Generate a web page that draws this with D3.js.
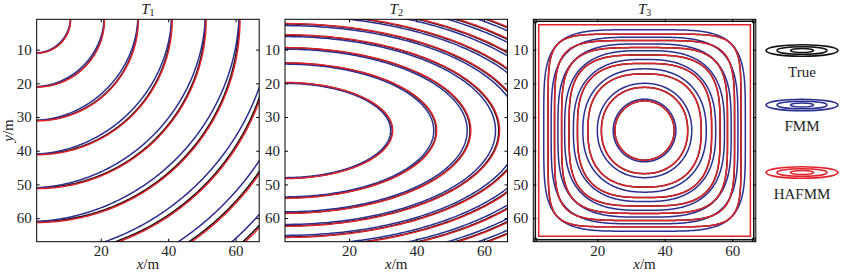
<!DOCTYPE html>
<html>
  <head>
    <meta charset="utf-8">
    <title>Traveltime contours</title>
    <script src="https://d3js.org/d3.v7.min.js"></script>
    <style>
      body { margin: 0; background: #fff; }
      svg text { font-family: "Liberation Serif", "Times New Roman", serif; font-size: 15px; fill: #222; }
      .tick line { stroke: #000; }
      .contour { fill: none; stroke-width: 1.5; }
    </style>
  </head>
  <body>
    <svg id="chart" width="842" height="275" font-family="Liberation Serif, serif"></svg>
    <script>
      // grid extent (m) and ticks
      const gridExtent = [1, 67];
      const xTicks = [20, 40, 60];
      const yTicks = [10, 20, 30, 40, 50, 60];
      const panelTitles = ["1", "2", "3"];
      const legendNames = ["True", "FMM", "HAFMM"];
      // T1: point source in the corner, contour radii (m)
      const t1Source = [1, 1];
      const t1Radii = [10, 20, 30, 40, 50, 60, 70, 80, 90];
      const t1FmmError = 0.025;
      // T2: elliptic fronts, half-height at the left edge (m), width/height ratio
      const t2Centre = [1, 34];
      const t2HalfHeights = [14.2, 20.0, 24.5, 28.3, 31.6, 34.6, 37.4, 40.0, 42.4];
      const t2Aspect = 2.24;
      const t2FmmShift = 0.985;
      // T3: rounded squares round the centre, half-size (m) and squareness
      const t3Centre = [34, 34];
      const t3HafmmSize = [8.8, 12.8, 16.8, 19.9, 22.4, 24.6, 26.7, 28.6];
      const t3HafmmPower = [2, 2.15, 2.5, 2.9, 3.4, 4.1, 5, 6.5];
      const t3FmmSize = [9.3, 14.0, 18.3, 21.1, 23.7, 25.7, 27.7, 29.9];
      const t3FmmPower = [2, 2.1, 2.3, 2.6, 2.9, 3.3, 3.8, 4.6];
      const t3BorderInset = [0.6, 1.6]; // true, HAFMM

      const colours = { True: "#111", FMM: "#2b2f8f", HAFMM: "#e2222a" };
      const panelLeft = [36.7, 285, 533.3];
      const plotTop = 19.3, w = 222.5, h = 222.4;

      const svg = d3.select("#chart");
      const x = d3.scaleLinear().domain(gridExtent).range([0, w]);
      const y = d3.scaleLinear().domain(gridExtent).range([0, h]);
      const line = d3.line().x(d => x(d[0])).y(d => y(d[1]));
      const closedLine = d3.line().x(d => x(d[0])).y(d => y(d[1])).curve(d3.curveLinearClosed);

      // shapes
      function arc(c, r, err) {
        return d3.range(0, 241).map(i => {
          const a = i / 240 * Math.PI / 2;
          const rr = r / (1 + err * Math.sin(2 * a));
          return [c[0] + rr * Math.cos(a), c[1] + rr * Math.sin(a)];
        });
      }
      function ellipse(c, hh, k) {
        return d3.range(0, 241).map(i => {
          const a = -Math.PI / 2 + i / 240 * Math.PI;
          return [c[0] + t2Aspect * hh * k * Math.cos(a), c[1] + hh * k * Math.sin(a)];
        });
      }
      function superellipse(c, s, n) {
        return d3.range(0, 480).map(i => {
          const a = i / 480 * 2 * Math.PI;
          const ca = Math.cos(a), sa = Math.sin(a);
          return [c[0] + s * Math.sign(ca) * Math.pow(Math.abs(ca), 2 / n),
                  c[1] + s * Math.sign(sa) * Math.pow(Math.abs(sa), 2 / n)];
        });
      }
      function square(inset) {
        const a = gridExtent[0] + inset, b = gridExtent[1] - inset;
        return [[a, a], [b, a], [b, b], [a, b]];
      }

      panelLeft.forEach(function(left, p) {
        const g = svg.append("g").attr("transform", "translate(" + left + "," + plotTop + ")");
        g.append("clipPath").attr("id", "clip" + p)
          .append("rect").attr("width", w).attr("height", h);
        const plot = g.append("g").attr("clip-path", "url(#clip" + p + ")");

        function draw(pts, name, closed) {
          plot.append("path").classed("contour", true)
            .attr("stroke", colours[name])
            .attr("d", closed ? closedLine(pts) : line(pts));
        }

        if (p === 0) {
          t1Radii.forEach(r => draw(arc(t1Source, r, 0), "True"));
          t1Radii.forEach(r => draw(arc(t1Source, r, t1FmmError), "FMM"));
          t1Radii.forEach(r => draw(arc(t1Source, r * 1.005, 0), "HAFMM"));
        } else if (p === 1) {
          t2HalfHeights.forEach(hh => draw(ellipse(t2Centre, hh, 1), "True"));
          t2HalfHeights.forEach(hh => draw(ellipse(t2Centre, hh, t2FmmShift), "FMM"));
          t2HalfHeights.forEach(hh => draw(ellipse(t2Centre, hh, 1.004), "HAFMM"));
        } else {
          draw(square(t3BorderInset[0]), "True", true);
          square(t3BorderInset[0]).forEach(d => {
            plot.append("circle").attr("cx", x(d[0])).attr("cy", y(d[1])).attr("r", 1.6)
              .attr("fill", "none").attr("stroke", colours.True).attr("stroke-width", 1.2);
          });
          t3HafmmSize.forEach((s, i) => draw(superellipse(t3Centre, s, t3HafmmPower[i]), "True", true));
          t3FmmSize.forEach((s, i) => draw(superellipse(t3Centre, s, t3FmmPower[i]), "FMM", true));
          draw(square(t3BorderInset[1]), "HAFMM", true);
          t3HafmmSize.forEach((s, i) => draw(superellipse(t3Centre, s, t3HafmmPower[i]), "HAFMM", true));
        }

        // axes, ticks inward on all four sides
        g.append("g").attr("transform", "translate(0," + h + ")")
          .call(d3.axisBottom(x).tickValues(xTicks).tickSize(-3).tickPadding(4));
        g.append("g")
          .call(d3.axisTop(x).tickValues(xTicks).tickSize(-3).tickFormat(""));
        g.append("g")
          .call(d3.axisLeft(y).tickValues(yTicks).tickSize(-3).tickPadding(5));
        g.append("g").attr("transform", "translate(" + w + ",0)")
          .call(d3.axisRight(y).tickValues(yTicks).tickSize(-3).tickFormat(""));
        g.selectAll(".domain").remove();
        g.selectAll(".tick text").attr("font-family", null).attr("font-size", null).attr("fill", "#222");
        g.append("rect").attr("width", w).attr("height", h)
          .attr("fill", "none").attr("stroke", "#000").attr("stroke-width", 1);

        // title
        const t = g.append("text").attr("x", w / 2).attr("y", -5).attr("text-anchor", "middle");
        t.append("tspan").attr("font-style", "italic").text("T");
        t.append("tspan").style("font-size", "10px").attr("dy", 2).text(panelTitles[p]);
        // x label
        const xl = g.append("text").attr("x", w / 2).attr("y", h + 27.5).attr("text-anchor", "middle");
        xl.append("tspan").attr("font-style", "italic").text("x");
        xl.append("tspan").text("/m");
      });

      // y label
      const yl = svg.append("text").attr("transform", "translate(12.5," + (plotTop + h / 2) + ") rotate(-90)")
        .attr("text-anchor", "middle");
      yl.append("tspan").attr("font-style", "italic").text("y");
      yl.append("tspan").text("/m");

      // legend
      const legendY = [50.5, 105, 172.5];
      legendNames.forEach(function(name, i) {
        const lg = svg.append("g").attr("transform", "translate(802," + legendY[i] + ")");
        [[36, 5.8], [25, 3.8], [11.5, 2]].forEach(function(e) {
          lg.append("ellipse").attr("rx", e[0]).attr("ry", e[1])
            .attr("fill", "none").attr("stroke", colours[name]).attr("stroke-width", 1.6);
        });
        lg.append("text").attr("y", 26).attr("text-anchor", "middle").text(name);
      });
    </script>
  </body>
</html>
